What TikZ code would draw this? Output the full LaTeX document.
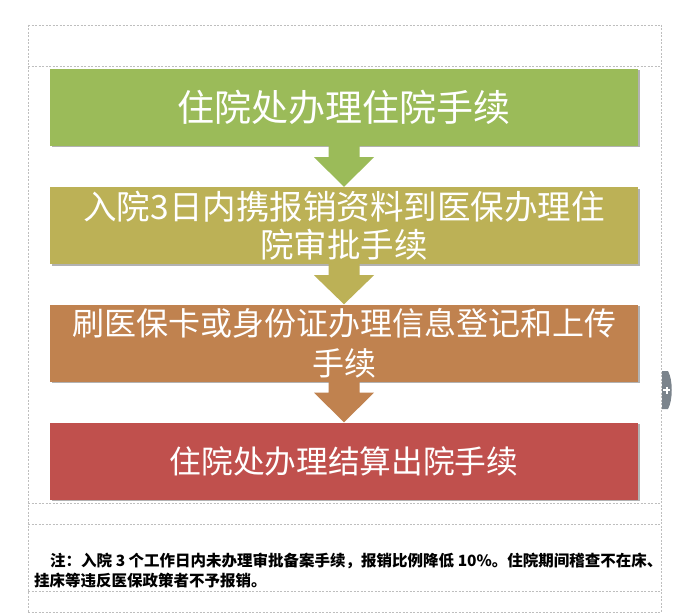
\documentclass[tikz,border=0pt]{standalone}
\usepackage{fontspec}
\setmainfont{Noto Sans CJK SC}
\usetikzlibrary{calc,shadows}
\definecolor{cgreen}{HTML}{9BBB59}
\definecolor{colive}{HTML}{BCB156}
\definecolor{cbrown}{HTML}{C0824F}
\definecolor{cred}{HTML}{C0504D}
\definecolor{cguide}{HTML}{BEBEBE}
\definecolor{chandle}{HTML}{7B848C}
\tikzset{
 stepbox/.style={rectangle, minimum width=588pt, minimum height=77pt, inner sep=0pt, text=white, align=center,
   drop shadow={shadow xshift=1.5pt, shadow yshift=-1.5pt, opacity=.3, fill=black}},
 guide/.style={draw=cguide, line width=0.6pt, dash pattern=on 2pt off 1.5pt},
}
\newcommand\flowarr[3]{%
 \fill[#3] ($(#1.south)+(-15.5,0)$) -- ($(#1.south)+(-15.5,11)$) -- ($(#1.south)+(-30,11)$) -- (#2.north)
   -- ($(#1.south)+(30,11)$) -- ($(#1.south)+(15.5,11)$) -- ($(#1.south)+(15.5,0)$) -- cycle;}
\begin{document}
\begin{tikzpicture}[x=1pt,y=-1pt]
\useasboundingbox (0,0) rectangle (696,615);
\fill[white] (0,0) rectangle (696,615);
% guides
\draw[guide] (28,25) -- (28,612);
\draw[guide] (661,25) -- (661,612);
\foreach \yy in {25,66,503,524,591,612} \draw[guide] (28,\yy) -- (661,\yy);
% boxes
\node[stepbox, fill=cgreen, font=\fontsize{37}{44}\selectfont] (b1) at (344,107.5) {住院处办理住院手续};
\node[stepbox, fill=colive, font=\fontsize{33.5}{38}\selectfont] (b2) at (344,225.5) {入院3日内携报销资料到医保办理住\\院审批手续};
\node[stepbox, fill=cbrown, font=\fontsize{32}{40}\selectfont] (b3) at (344,343) {刷医保卡或身份证办理信息登记和上传\\手续};
\node[stepbox, fill=cred, font=\fontsize{31.7}{38}\selectfont] (b4) at (344,461) {住院处办理结算出院手续};
% arrows
\flowarr{b1}{b2}{cgreen}
\flowarr{b2}{b3}{colive}
\flowarr{b3}{b4}{cbrown}
% note
\node[anchor=north west, inner sep=0pt, align=left, font=\fontsize{15.5}{20}\selectfont\bfseries] (note) at (34,552.5)
 {\hspace*{16pt}注：入院 3 个工作日内未办理审批备案手续，报销比例降低 10\%。住院期间稽查不在床、\\挂床等违反医保政策者不予报销。};
% handle
\fill[chandle] (662,371) -- (668,371) .. controls (673,380) and (673,400) .. (668,409) -- (662,409) -- cycle;
\draw[white, line width=1.8pt] (663.3,390) -- (670.3,390) (666.8,386.5) -- (666.8,393.5);
\end{tikzpicture}
\end{document}
